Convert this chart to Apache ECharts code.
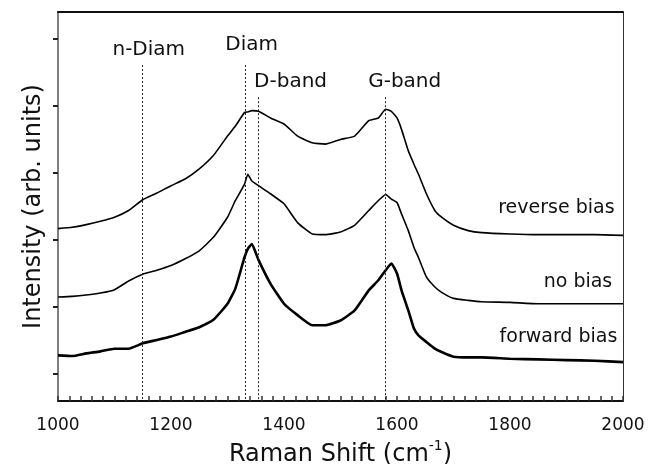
<!DOCTYPE html>
<html>
<head>
<meta charset="utf-8">
<script src="https://cdn.jsdelivr.net/npm/echarts@6/dist/echarts.min.js"></script>
<style>
html,body{margin:0;padding:0;background:#fff;}
#chart{width:648px;height:464px;}
</style>
</head>
<body>
<div id="chart"></div>
<script>
// Raman shift (cm-1) sample positions
const wavenumbers = [1000,1025,1050,1075,1100,1125,1150,1175,1200,1225,1250,1275,1300,1314,1330,1336,1343,1355,1376,1400,1424,1450,1473,1500,1525,1550,1567,1580,1590,1600,1608,1620,1630,1638,1652,1667,1679,1700,1726,1750,1800,1850,1900,1950,2000];
// Intensities (arb. units)
const reverseBias = [317,319,323,328,334,344,360,370,381,391,406,426,455,470,490,491,493,492,482,473,455,445,443,450,455,478,482,495,492,482,465,433,413,398,369,344,334,322,314,311,309,308,308,308,307];
const noBias      = [215,216,218,221,226,239,249,255,262,272,284,304,334,359,383,398,388,381,369,354,326,309,308,312,322,344,359,368,361,356,339,314,289,274,245,230,222,213,210,208,207,205,205,205,205];
const forwardBias = [128,127,131,134,138,138,146,151,156,163,170,181,205,228,274,287,294,270,235,205,188,173,173,180,195,225,240,255,265,250,225,195,168,158,148,138,133,126,125,125,123,122,121,120,118];

const curveNames = ['reverse bias','no bias','forward bias'];
const curveLabelAnchors = [[1985,347],[1981,238],[1990,155]];

const bandNames  = ['n-Diam','Diam','D-band','G-band'];
const bandShifts = [1150,1332,1355,1580];
const bandTops   = [561,561,513,513];

const xTickLabels = [1000,1200,1400,1600,1800,2000];
const yTicks = [100,200,300,400,500,600];
const yMin = 60, yMax = 640;

const FONT = 'DejaVu Sans';
const bandLabelOffsets = [[6,0],[6,-5],[32,0],[19,0]];

const chart = echarts.init(document.getElementById('chart'), null, {renderer:'canvas'});

const seriesArrays = [reverseBias, noBias, forwardBias];
const widths = [1.6, 1.6, 2.6];

const series = seriesArrays.map((arr, i) => ({
  type: 'line',
  name: curveNames[i],
  data: wavenumbers.map((w, j) => [w, arr[j]]),
  showSymbol: false,
  symbol: 'none',
  smooth: 0.15,
  lineStyle: { color: '#000', width: widths[i] },
  z: 3,
  markPoint: {
    symbol: 'circle',
    symbolSize: 0,
    data: [{ name: curveNames[i], coord: curveLabelAnchors[i] }],
    label: {
      show: true, position: 'left', distance: 0, formatter: '{b}',
      fontFamily: FONT, fontSize: 19, color: '#111'
    }
  }
}));

series.push({
  type: 'line',
  data: [],
  markLine: {
    silent: true,
    symbol: ['none','none'],
    lineStyle: { type: [2,2], color: '#222', width: 1 },
    label: { show: true, position: 'start', formatter: '{b}', fontFamily: FONT, fontSize: 20, color: '#111' },
    data: bandNames.map((n, i) => [
      { name: n, coord: [bandShifts[i], bandTops[i]], label: { offset: bandLabelOffsets[i] } },
      { coord: [bandShifts[i], yMin] }
    ])
  }
});

chart.setOption({
  animation: false,
  backgroundColor: '#fff',
  grid: { left: 58, right: 25, top: 12, height: 389, outerBoundsMode: 'none', containLabel: false },
  xAxis: [{
    type: 'value', min: 1000, max: 2000, interval: 200, position: 'bottom',
    name: '{a|Raman Shift (cm}{s|-1}{a|)}',
    nameLocation: 'middle', nameGap: 35,
    nameTextStyle: {
      rich: {
        a: { fontFamily: FONT, fontSize: 24, color: '#111', verticalAlign: 'bottom' },
        s: { fontFamily: FONT, fontSize: 14, color: '#111', verticalAlign: 'bottom', padding: [0,0,14,0] }
      }
    },
    axisLine: { lineStyle: { color: '#111', width: 2 } },
    axisTick: { inside: true, length: 5, lineStyle: { color: '#333', width: 1.5 } },
    minorTick: { show: true, splitNumber: 10, length: 5, lineStyle: { color: '#333', width: 1.5 } },
    splitLine: { show: false },
    axisLabel: { fontFamily: FONT, fontSize: 17, color: '#111', margin: 16,
      formatter: v => xTickLabels.includes(v) ? String(v) : '' }
  }, {
    type: 'value', min: 1000, max: 2000, position: 'top',
    axisLine: { show: true, lineStyle: { color: '#111', width: 2 } },
    axisTick: { show: false }, axisLabel: { show: false }, splitLine: { show: false }
  }],
  yAxis: [{
    type: 'value', min: yMin, max: yMax, position: 'left',
    name: 'Intensity (arb. units)', nameLocation: 'middle', nameGap: 12,
    nameTextStyle: { fontFamily: FONT, fontSize: 24, color: '#111' },
    axisLine: { show: true, lineStyle: { color: '#555', width: 1.5 } },
    axisTick: { show: true, inside: false, length: 5, lineStyle: { color: '#222', width: 2 }, customValues: yTicks },
    axisLabel: { show: false },
    splitLine: { show: false }
  }, {
    type: 'value', min: yMin, max: yMax, position: 'right',
    axisLine: { show: true, lineStyle: { color: '#333', width: 1 } },
    axisTick: { show: false }, axisLabel: { show: false }, splitLine: { show: false }
  }],
  series: series
});
</script>
</body>
</html>
